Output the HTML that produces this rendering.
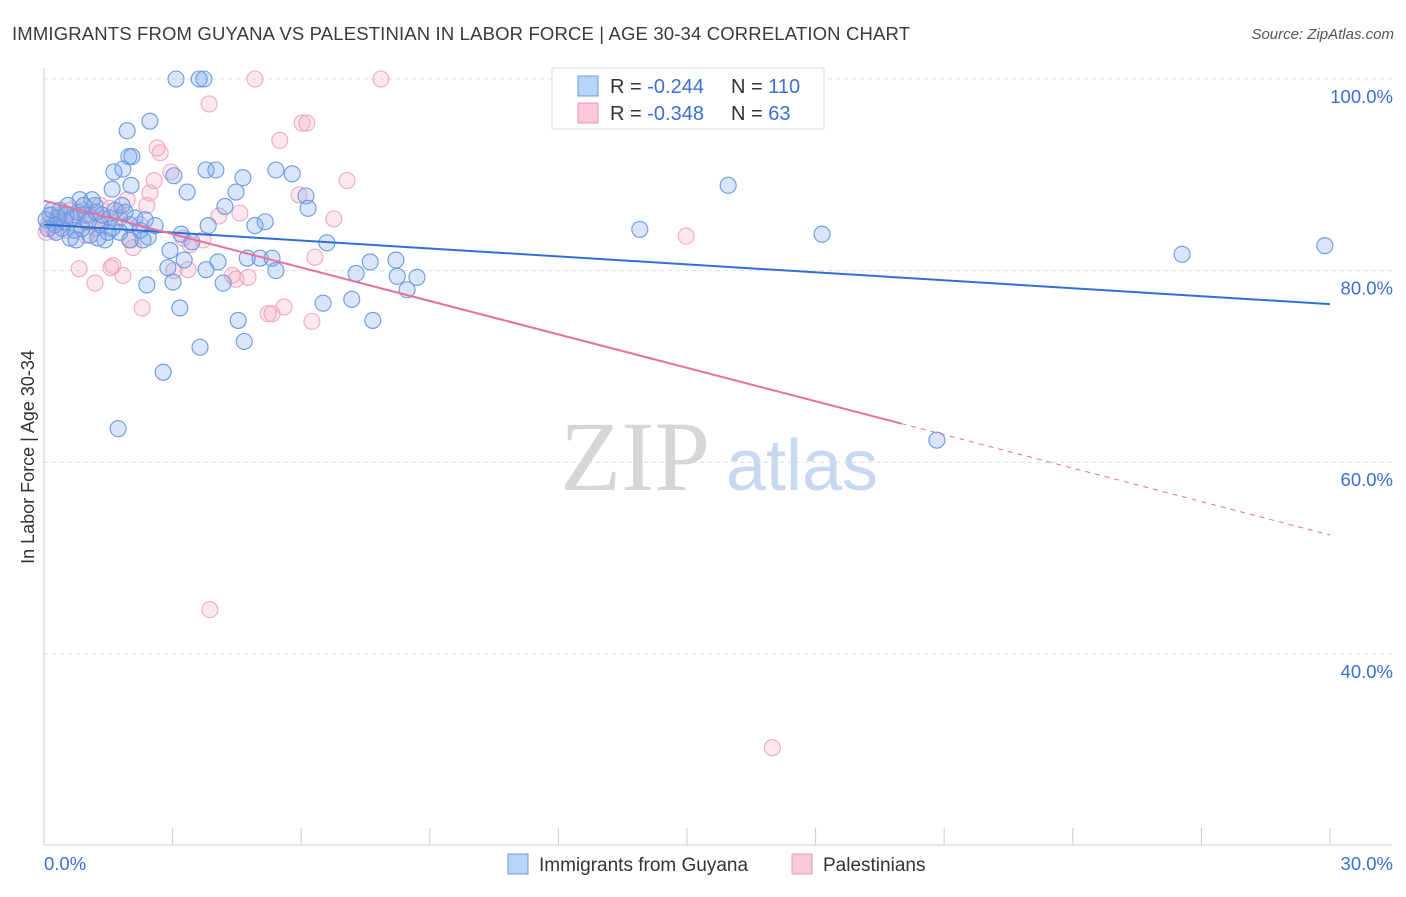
<!DOCTYPE html>
<html><head><meta charset="utf-8"><style>
body{margin:0;background:#fff;font-family:"Liberation Sans",sans-serif;}
</style></head><body>
<svg id="chart" width="1406" height="892" xmlns="http://www.w3.org/2000/svg" font-family="Liberation Sans, sans-serif">
<text x="12" y="40" font-size="18.5" fill="#3a3a3a" textLength="898">IMMIGRANTS FROM GUYANA VS PALESTINIAN IN LABOR FORCE | AGE 30-34 CORRELATION CHART</text>
<text x="1394" y="39" font-size="15" font-style="italic" fill="#555" text-anchor="end">Source: ZipAtlas.com</text>
<g>
<text x="635" y="490" font-size="100" style="font-family:'Liberation Serif',serif" fill="#d6d6d6" text-anchor="middle">ZIP</text>
<text x="802" y="490" font-size="72" fill="#c8d8f0" text-anchor="middle">atlas</text>
</g>
<g id="grid"></g>
<g id="axes"></g>
<g id="pts"></g>
<g id="trends"></g>
<text transform="translate(34,457) rotate(-90)" font-size="18" fill="#333" text-anchor="middle">In Labor Force | Age 30-34</text>
<g>
<rect x="552" y="68" width="272" height="61" fill="#fff" stroke="#ddd"/>
<rect x="578" y="76" width="20" height="20" fill="#b8d4f8" stroke="#6a9de0"/>
<rect x="578" y="103" width="20" height="20" fill="#fbc8d8" stroke="#e898b4"/>
<text x="610" y="93" font-size="20" fill="#333">R = <tspan fill="#3a6fd8">-0.244</tspan></text>
<text x="731" y="93" font-size="20" fill="#333">N = <tspan fill="#3a6fd8">110</tspan></text>
<text x="610" y="120" font-size="20" fill="#333">R = <tspan fill="#3a6fd8">-0.348</tspan></text>
<text x="731" y="120" font-size="20" fill="#333">N = <tspan fill="#3a6fd8"> 63</tspan></text>
</g>
<g>
<rect x="508" y="854" width="20" height="20" fill="#b8d4f8" stroke="#6a9de0"/>
<text x="539" y="871" font-size="19" fill="#333">Immigrants from Guyana</text>
<rect x="792" y="854" width="20" height="20" fill="#fbc8d8" stroke="#e898b4"/>
<text x="823" y="871" font-size="19" fill="#333">Palestinians</text>
</g>
</svg>
<script>
const yTicks=[100,80,60,40];
const yTickLabels=["100.0%","80.0%","60.0%","40.0%"];
const xTickVals=[0,3,6,9,12,15,18,21,24,27,30];
const blueX=[3.08,3.62,3.73,2.47,1.94,1.98,2.05,1.63,1.84,1.59,2.03,3.03,3.34,3.78,4.01,4.48,4.64,5.41,5.79,6.11,6.16,4.22,3.83,5.16,4.92,6.6,3.2,3.45,2.94,2.43,2.31,2.89,3.27,3.78,3.01,4.18,2.4,4.74,5.04,5.32,5.41,4.06,7.28,7.61,8.21,8.24,8.7,8.47,6.51,7.18,7.67,4.53,4.67,3.17,3.64,2.78,1.73,15.96,13.9,18.15,26.55,29.88,20.83,
.14,.26,.37,.49,.61,.72,.84,.96,1.07,1.19,1.31,1.42,1.54,1.66,1.77,1.89,2.0,2.12,2.24,2.36,2.59,.42,.65,.89,1.12,1.35,1.49,.09,.33,.79,1.03,1.26,1.59,1.82,2.0,.51,.28,.05,.19,1.21,.75,.93,.56];
const blueY=[100,100,100,95.6,94.6,91.9,91.9,90.3,90.6,88.5,88.9,89.9,88.2,90.5,90.5,88.2,89.7,90.5,90.1,87.8,86.5,86.7,84.7,85.1,84.7,82.9,83.8,83.0,82.1,83.5,83.2,80.3,81.1,80.1,78.8,78.7,78.5,81.3,81.3,81.3,80.0,80.9,79.7,80.9,81.1,79.4,79.3,78.0,76.6,77.0,74.8,74.8,72.6,76.1,72.0,69.4,63.5,88.9,84.3,83.8,81.7,82.6,62.3,
85.8,84.8,86.3,85.1,83.4,84.2,87.4,85.8,83.7,86.8,84.8,83.2,85.5,86.3,84.0,86.1,84.8,85.5,84.2,85.3,84.7,84.4,85.5,84.4,87.4,85.8,84.0,84.4,85.5,86.1,85.1,83.4,84.4,86.8,83.2,85.8,84.0,85.3,86.3,86.1,83.2,86.8,86.8];
const pinkX=[4.92,7.86,3.85,6.02,6.13,5.5,2.64,2.71,2.96,2.57,7.07,5.95,2.47,1.94,2.4,4.08,4.57,6.76,1.73,1.54,3.24,3.71,3.41,2.03,2.08,3.03,3.36,4.39,4.76,4.48,.82,1.56,1.61,1.19,1.84,2.29,5.23,5.32,5.6,6.25,6.32,14.98,3.87,16.99,
.23,.09,.37,.61,.84,1.07,1.31,.51,.98,1.4,.33,.72,.05,.19,1.77,2.24,1.21,.93];
const pinkY=[100,100,97.4,95.4,95.4,93.6,92.8,92.3,90.3,89.4,89.4,87.9,88.1,87.4,86.8,85.7,86.0,85.4,86.1,86.5,83.4,83.2,82.7,83.2,82.4,80.0,80.1,79.5,79.3,79.1,80.2,80.3,80.5,78.7,79.5,76.1,75.5,75.5,76.2,74.7,81.4,83.6,44.6,30.2,
84.2,84.8,85.8,86.3,84.8,85.8,86.8,84.2,83.7,85.3,85.1,85.5,84.0,85.8,85.5,84.8,84.4,86.3];
const blueTrend=[84.8,76.5];
const pinkTrend=[87.3,52.4];
const pinkSolidEnd=20;

const NS="http://www.w3.org/2000/svg";
const X=v=>44+v*(1286/30);
const Y=v=>79+(100-v)*9.58;
function mk(tag,attrs,parent){const e=document.createElementNS(NS,tag);for(const k in attrs)e.setAttribute(k,attrs[k]);parent.appendChild(e);return e;}
const grid=document.getElementById('grid'),axes=document.getElementById('axes'),pts=document.getElementById('pts'),tr=document.getElementById('trends');
yTicks.forEach((t,i)=>{
 const l=mk('line',{x1:44,x2:1392,y1:Y(t),y2:Y(t),stroke:'#ddd','stroke-dasharray':'4,4'},grid);
 
 
 const tx=mk('text',{x:1393,y:Y(t)+24,'font-size':18.5,fill:'#3a6fd8','text-anchor':'end'},axes);
 tx.textContent=yTickLabels[i];
 
 
});
let a=mk('line',{x1:44,x2:44,y1:68,y2:845,stroke:'#ccc'},axes);


a=mk('line',{x1:44,x2:1392,y1:845,y2:845,stroke:'#ccc'},axes);


xTickVals.forEach(v=>{
 const t=mk('line',{x1:X(v),x2:X(v),y1:828,y2:845,stroke:'#ccc'},axes);
 
 
});
let xl=mk('text',{x:44,y:870,'font-size':18.5,fill:'#3a6fd8'},axes);xl.textContent='0.0%';


xl=mk('text',{x:1393,y:870,'font-size':18.5,fill:'#3a6fd8','text-anchor':'end'},axes);xl.textContent='30.0%';


pinkX.forEach((x,i)=>{
 const c=mk('circle',{cx:X(x),cy:Y(pinkY[i]),r:8,fill:'rgba(244,170,198,0.28)',stroke:'#eeaac2','stroke-width':1.1},pts);
 
 
});
blueX.forEach((x,i)=>{
 const c=mk('circle',{cx:X(x),cy:Y(blueY[i]),r:8,fill:'rgba(120,165,235,0.28)',stroke:'#6b9ae2','stroke-width':1.1},pts);
 
 
});
let ln=mk('line',{x1:X(0),y1:Y(blueTrend[0]),x2:X(30),y2:Y(blueTrend[1]),stroke:'#2e6fd8','stroke-width':2},tr);


const py=v=>pinkTrend[0]+(pinkTrend[1]-pinkTrend[0])*v/30;
ln=mk('line',{x1:X(0),y1:Y(pinkTrend[0]),x2:X(pinkSolidEnd),y2:Y(py(pinkSolidEnd)),stroke:'#e8709a','stroke-width':2},tr);


ln=mk('line',{x1:X(pinkSolidEnd),y1:Y(py(pinkSolidEnd)),x2:X(30),y2:Y(pinkTrend[1]),stroke:'#e8709a','stroke-width':1,'stroke-dasharray':'5,5'},tr);


</script>
</body></html>
